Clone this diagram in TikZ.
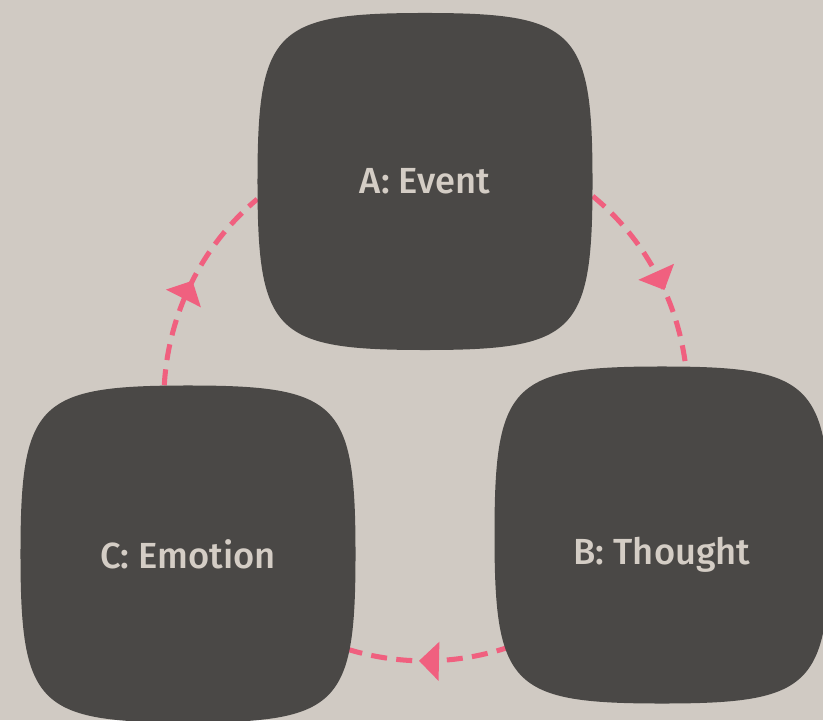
\documentclass[tikz,border=0pt]{standalone}
\usepackage{fontspec}
\setmainfont{Fira Sans}[UprightFont=* Medium]
\usepackage{xcolor}
\usetikzlibrary{arrows.meta,decorations.markings}

\definecolor{canvasbg}{HTML}{D0CAC3}
\definecolor{blobgray}{HTML}{4A4846}
\definecolor{cyclepink}{HTML}{F0607F}
\definecolor{labelbeige}{HTML}{D4CDC5}

\pgfdeclarelayer{canvas}
\pgfdeclarelayer{behind}
\pgfsetlayers{canvas,behind,main}

\begin{document}
\begin{tikzpicture}[x=0.03cm, y=0.03cm,
    blob/.style={minimum width=10.05cm, minimum height=10.11cm, inner sep=0pt,
      text=labelbeige, font=\fontsize{31}{37}\selectfont,
      path picture={\fill[blobgray] (path picture bounding box.east)
        .. controls +(0,4.55cm) and +(4.52cm,0) .. (path picture bounding box.north)
        .. controls +(-4.52cm,0) and +(0,4.55cm) .. (path picture bounding box.west)
        .. controls +(0,-4.55cm) and +(-4.52cm,0) .. (path picture bounding box.south)
        .. controls +(4.52cm,0) and +(0,-4.55cm) .. (path picture bounding box.east);}},
    cycle arrow/.style={draw=cyclepink, line width=4.3pt, dash pattern=on 0.48cm off 0.28cm,
      decoration={markings, mark=at position #1 with {\arrow[cyclepink, solid]{Triangle[length=0.6cm, width=1.14cm]}}},
      postaction={decorate}}]
    \useasboundingbox (0,0) rectangle (823,720);
    \begin{pgfonlayer}{canvas}
      \fill[canvasbg] (0,0) rectangle (823,720);
    \end{pgfonlayer}

    % Stages
    \node[blob] (A) at (425,538.5) {A: Event};
    \node[blob, text height=2.0cm] (B) at (662,185) {B: Thought};
    \node[blob] (C) at (188,166) {C: Emotion};

    % Cycle
    \begin{pgfonlayer}{behind}
      \draw[cycle arrow=0.6] (A.-5) to[out=-39.4, in=97.1, looseness=0.885] (B.82);
      \draw[cycle arrow=0.56] ([shift={(-126.7,-101.5)}]B.center) to[out=-155, in=-22, looseness=0.885] ([shift={(139.2,-88)}]C.center);
      \draw[cycle arrow=0.51] (C.98) to[out=86.8, in=-140.1, looseness=0.885] (A.186.2);
    \end{pgfonlayer}
\end{tikzpicture}
\end{document}
